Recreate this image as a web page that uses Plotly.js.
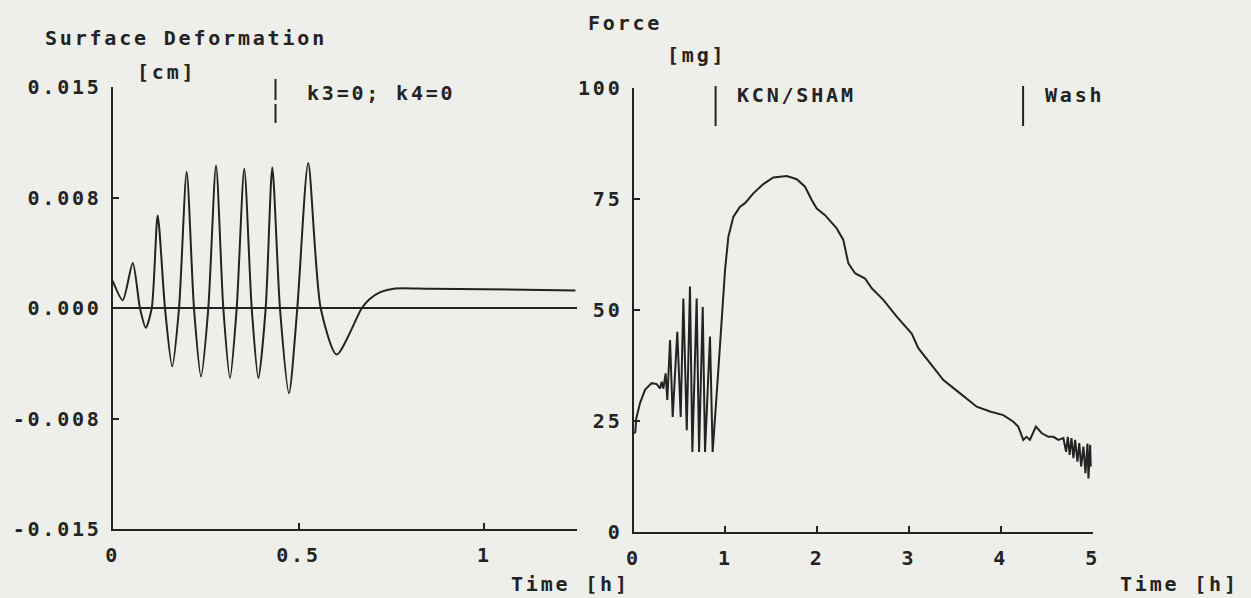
<!DOCTYPE html>
<html>
<head>
<meta charset="utf-8">
<script src="https://cdn.plot.ly/plotly-3.0.1.min.js"></script>
<style>
  html, body { margin: 0; padding: 0; background: #eeeeea; }
  #chart { width: 1251px; height: 598px; }
  .main-svg text { letter-spacing: 2.8px; }
</style>
</head>
<body>
<div id="chart"></div>
<script>
// ---- Left panel: Surface Deformation [cm] vs Time [h]
const timeDeform = [0, 0.027, 0.054, 0.0734, 0.089, 0.105, 0.121, 0.1407, 0.160, 0.1784, 0.199, 0.2187, 0.2376, 0.2572, 0.278, 0.2976, 0.3156, 0.3336, 0.354, 0.374, 0.392, 0.4116, 0.4294, 0.450, 0.4743, 0.4966, 0.526, 0.5596, 0.6026, 0.670, 0.69, 0.72, 0.76, 0.85, 1.0, 1.245];
const deformation = [0.00186, 0.00055, 0.00307, 0, -0.00132, 0, 0.0063, 0, -0.00394, 0, 0.00925, 0, -0.00462, 0, 0.0097, 0, -0.00473, 0, 0.00948, 0, -0.00473, 0, 0.00955, 0, -0.00576, 0, 0.00986, 0, -0.00314, 0, 0.0006, 0.0011, 0.00135, 0.00133, 0.0013, 0.0012];
const deformTickVals = [-0.015, -0.0075, 0, 0.0075, 0.015];
const deformTickText = ['-0.015', '-0.008', '0.000', '0.008', '0.015'];
const timeTickValsLeft = [0, 0.5, 1];
const timeTickTextLeft = ['0', '0.5', '1'];
const leftEventTimes = [0.438];
const leftEventLabels = ['k3=0; k4=0'];

// ---- Right panel: Force [mg] vs Time [h]
const timeForce = [0, 0.02, 0.03, 0.071, 0.125, 0.198, 0.253, 0.289, 0.307, 0.325, 0.35, 0.368, 0.398, 0.427, 0.477, 0.514, 0.543, 0.58, 0.615, 0.641, 0.688, 0.714, 0.754, 0.779, 0.833, 0.862, 0.924, 0.961, 0.997, 1.033, 1.087, 1.16, 1.215, 1.305, 1.414, 1.523, 1.669, 1.778, 1.868, 1.941, 1.996, 2.086, 2.213, 2.285, 2.34, 2.413, 2.522, 2.595, 2.721, 2.867, 3.03, 3.102, 3.23, 3.375, 3.557, 3.738, 3.883, 4.028, 4.137, 4.19, 4.245, 4.28, 4.317, 4.382, 4.447, 4.519, 4.573, 4.627, 4.682, 4.711, 4.73, 4.75, 4.77, 4.791, 4.81, 4.835, 4.855, 4.875, 4.9, 4.922, 4.944, 4.955, 4.973, 4.98];
const force = [22.2, 22.5, 25.5, 29.0, 32.0, 33.5, 33.3, 32.3, 33.8, 32.3, 35.7, 29.7, 43.2, 25.9, 45.1, 25.9, 52.6, 22.9, 55.3, 18, 52.6, 18, 50.7, 18, 44.0, 18, 36.5, 47.7, 59.0, 66.5, 71.0, 73.3, 74.1, 76.3, 78.4, 79.9, 80.2, 79.5, 77.8, 74.8, 72.9, 71.4, 68.4, 65.8, 60.5, 58.3, 57.1, 54.9, 52.3, 48.5, 44.7, 41.4, 38.0, 34.2, 31.2, 28.2, 27.1, 26.3, 24.8, 23.7, 20.7, 21.4, 20.7, 23.7, 22.2, 21.4, 21.4, 20.7, 21.1, 18.0, 21.4, 17.3, 21.1, 16.6, 20.7, 15.8, 20.0, 14.7, 19.2, 13.2, 19.9, 12.0, 19.6, 14.7];
const forceTickVals = [0, 25, 50, 75, 100];
const timeTickValsRight = [0, 1, 2, 3, 4, 5];
const rightEventTimes = [0.894, 4.243];
const rightEventLabels = ['KCN/SHAM', 'Wash'];

// ---- styling helpers
const W = 1251, H = 598;
const INK = '#232323';
const BG = '#eeeeea';
const FONT = { family: 'DejaVu Sans Mono, monospace', size: 20, color: INK, weight: 'bold' };
const px = x => x / W;
const py = y => 1 - y / H;

const traces = [
  { x: timeDeform, y: deformation, xaxis: 'x', yaxis: 'y', type: 'scatter', mode: 'lines',
    line: { color: INK, width: 2, shape: 'spline', smoothing: 0.7 }, hoverinfo: 'skip' },
  { x: timeForce, y: force, xaxis: 'x2', yaxis: 'y2', type: 'scatter', mode: 'lines',
    line: { color: INK, width: 2 }, hoverinfo: 'skip' }
];

const axisCommon = {
  showgrid: false, showline: true, linecolor: INK, linewidth: 2,
  ticks: 'inside', ticklen: 6, tickwidth: 2, tickcolor: INK,
  tickfont: FONT, fixedrange: true
};

const layout = {
  width: W, height: H,
  margin: { l: 0, r: 0, t: 0, b: 0 },
  paper_bgcolor: BG, plot_bgcolor: BG,
  showlegend: false,
  font: FONT,
  xaxis: Object.assign({}, axisCommon, {
    domain: [px(112.7), px(577.3)], range: [0, 1.25], anchor: 'y',
    tickmode: 'array', tickvals: timeTickValsLeft, ticktext: timeTickTextLeft,
    zeroline: false, ticklabelstandoff: 7
  }),
  yaxis: Object.assign({}, axisCommon, {
    domain: [py(529.3), py(87.3)], range: [-0.015, 0.015], anchor: 'x',
    tickmode: 'array', tickvals: deformTickVals, ticktext: deformTickText,
    zeroline: true, zerolinecolor: INK, zerolinewidth: 2, ticklabelstandoff: 5
  }),
  xaxis2: Object.assign({}, axisCommon, {
    domain: [px(633.5), px(1092.6)], range: [0, 5], anchor: 'y2',
    tickmode: 'array', tickvals: timeTickValsRight,
    zeroline: false, ticklabelstandoff: 7
  }),
  yaxis2: Object.assign({}, axisCommon, {
    domain: [py(531.7), py(88.3)], range: [0, 100], anchor: 'x2',
    tickmode: 'array', tickvals: forceTickVals,
    zeroline: false, ticklabelstandoff: 5
  }),
  shapes: [],
  annotations: []
};

// event markers (vertical ticks above the data)
leftEventTimes.forEach(t => {
  layout.shapes.push({ type: 'line', xref: 'x', yref: 'paper', x0: t, x1: t, y0: py(79), y1: py(100), line: { color: INK, width: 2 } });
  layout.shapes.push({ type: 'line', xref: 'x', yref: 'paper', x0: t, x1: t, y0: py(104), y1: py(123), line: { color: INK, width: 2 } });
});
rightEventTimes.forEach(t => {
  layout.shapes.push({ type: 'line', xref: 'x2', yref: 'paper', x0: t, x1: t, y0: py(86), y1: py(126), line: { color: INK, width: 2 } });
});

function label(text, x, y) {
  layout.annotations.push({ text: text, xref: 'paper', yref: 'paper', x: px(x), y: py(y),
    xanchor: 'left', yanchor: 'middle', align: 'left', showarrow: false, font: FONT, borderpad: 0 });
}
label('Surface Deformation', 44, 38);
label('[cm]', 136, 72);
label(leftEventLabels[0], 306, 93);
label('Time [h]', 510, 584);
label('Force', 587, 23);
label('[mg]', 666, 55);
label(rightEventLabels[0], 736, 95);
label(rightEventLabels[1], 1044, 95);
label('Time [h]', 1119, 584);

Plotly.newPlot('chart', traces, layout, { staticPlot: true, displayModeBar: false });
</script>
</body>
</html>
